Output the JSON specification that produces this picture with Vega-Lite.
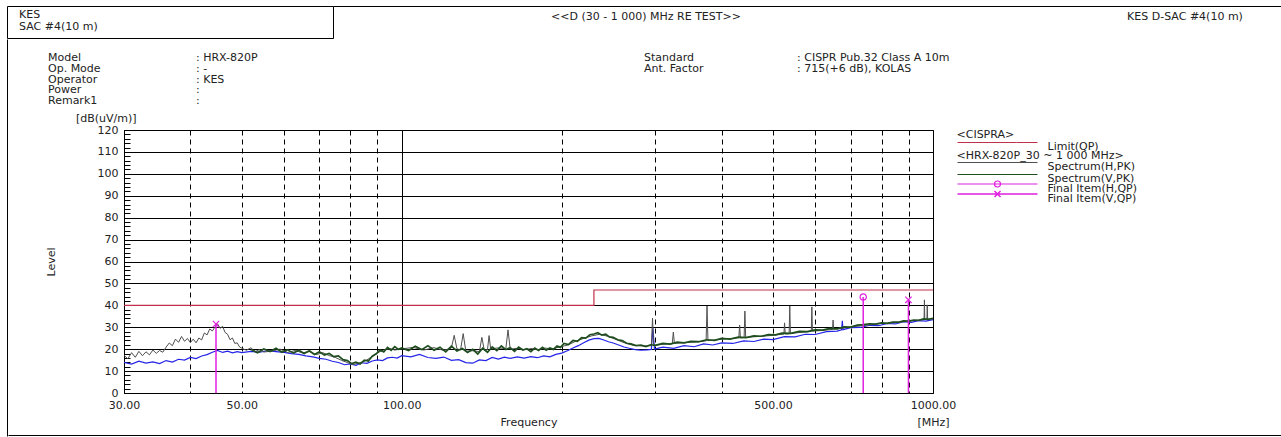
{
  "$schema": "https://vega.github.io/schema/vega-lite/v6.json",
  "padding": {"left": 6, "top": 5, "right": 0, "bottom": 0},
  "background": "white",
  "bounds": "full",
  "spacing": 0,
  "config": {
    "font": "DejaVu Sans",
    "view": {"stroke": null},
    "text": {"font": "DejaVu Sans", "fontSize": 11, "color": "#222"},
    "title": {"font": "DejaVu Sans"},
    "axis": {"labelFont": "DejaVu Sans", "titleFont": "DejaVu Sans"},
    "legend": {"labelFont": "DejaVu Sans", "titleFont": "DejaVu Sans"}
  },
  "datasets": {
    "lim": [
      {"f": 30, "v": 40, "lim": "L"},
      {"f": 230, "v": 47, "lim": "L"},
      {"f": 1000, "v": 47, "lim": "L"}
    ],
    "fin": [
      {"f": 44.7, "v": 31.5, "s": "FV"},
      {"f": 739, "v": 43.8, "s": "FH"},
      {"f": 899, "v": 42.5, "s": "FV"}
    ],
    "b": [
      {"f":30,"v":14.0,"s":"B"},{"f":31,"v":13.2,"s":"B"},{"f":32,"v":14.5,"s":"B"},{"f":33,"v":13.6,"s":"B"},{"f":34,"v":14.2,"s":"B"},{"f":35,"v":13.4,"s":"B"},{"f":36,"v":14.8,"s":"B"},{"f":37,"v":14.1,"s":"B"},{"f":38,"v":15.4,"s":"B"},{"f":39,"v":15.0,"s":"B"},{"f":40,"v":16.2,"s":"B"},{"f":41,"v":15.7,"s":"B"},{"f":42,"v":16.9,"s":"B"},{"f":43,"v":17.5,"s":"B"},{"f":44,"v":18.6,"s":"B"},{"f":45,"v":19.4,"s":"B"},{"f":46,"v":18.5,"s":"B"},{"f":47,"v":19.1,"s":"B"},{"f":48,"v":18.3,"s":"B"},{"f":49,"v":18.9,"s":"B"},{"f":50,"v":18.4,"s":"B"},{"f":52,"v":19.0,"s":"B"},{"f":54,"v":18.6,"s":"B"},{"f":56,"v":19.3,"s":"B"},{"f":58,"v":18.9,"s":"B"},{"f":60,"v":18.5,"s":"B"},{"f":62,"v":18.0,"s":"B"},{"f":64,"v":17.6,"s":"B"},{"f":66,"v":16.9,"s":"B"},{"f":68,"v":16.5,"s":"B"},{"f":70,"v":15.8,"s":"B"},{"f":72,"v":15.4,"s":"B"},{"f":74,"v":14.5,"s":"B"},{"f":76,"v":13.9,"s":"B"},{"f":78,"v":12.9,"s":"B"},{"f":80,"v":13.3,"s":"B"},{"f":82,"v":12.6,"s":"B"},{"f":84,"v":13.8,"s":"B"},{"f":86,"v":13.5,"s":"B"},{"f":88,"v":14.6,"s":"B"},{"f":90,"v":15.1,"s":"B"},{"f":92,"v":14.8,"s":"B"},{"f":94,"v":16.0,"s":"B"},{"f":96,"v":16.3,"s":"B"},{"f":98,"v":15.9,"s":"B"},{"f":100,"v":17.0,"s":"B"},{"f":104,"v":16.5,"s":"B"},{"f":108,"v":17.6,"s":"B"},{"f":112,"v":16.2,"s":"B"},{"f":116,"v":15.8,"s":"B"},{"f":120,"v":16.4,"s":"B"},{"f":124,"v":14.9,"s":"B"},{"f":128,"v":15.2,"s":"B"},{"f":132,"v":13.9,"s":"B"},{"f":136,"v":13.6,"s":"B"},{"f":140,"v":15.1,"s":"B"},{"f":144,"v":14.8,"s":"B"},{"f":148,"v":16.2,"s":"B"},{"f":152,"v":15.5,"s":"B"},{"f":156,"v":16.4,"s":"B"},{"f":160,"v":15.8,"s":"B"},{"f":165,"v":16.5,"s":"B"},{"f":170,"v":15.9,"s":"B"},{"f":175,"v":16.6,"s":"B"},{"f":180,"v":16.1,"s":"B"},{"f":185,"v":16.9,"s":"B"},{"f":190,"v":16.5,"s":"B"},{"f":195,"v":17.6,"s":"B"},{"f":200,"v":18.2,"s":"B"},{"f":205,"v":19.3,"s":"B"},{"f":210,"v":20.5,"s":"B"},{"f":215,"v":21.6,"s":"B"},{"f":220,"v":22.9,"s":"B"},{"f":225,"v":24.1,"s":"B"},{"f":230,"v":24.8,"s":"B"},{"f":235,"v":24.9,"s":"B"},{"f":240,"v":24.2,"s":"B"},{"f":245,"v":23.4,"s":"B"},{"f":250,"v":22.8,"s":"B"},{"f":256,"v":21.9,"s":"B"},{"f":262,"v":21.0,"s":"B"},{"f":268,"v":20.4,"s":"B"},{"f":275,"v":19.8,"s":"B"},{"f":282,"v":19.5,"s":"B"},{"f":290,"v":19.7,"s":"B"},{"f":295,"v":19.9,"s":"B"},{"f":297,"v":29.5,"s":"B"},{"f":299,"v":20.0,"s":"B"},{"f":310,"v":20.9,"s":"B"},{"f":325,"v":20.4,"s":"B"},{"f":340,"v":21.6,"s":"B"},{"f":355,"v":21.1,"s":"B"},{"f":370,"v":22.4,"s":"B"},{"f":385,"v":21.9,"s":"B"},{"f":400,"v":22.9,"s":"B"},{"f":420,"v":22.6,"s":"B"},{"f":440,"v":23.8,"s":"B"},{"f":460,"v":23.5,"s":"B"},{"f":480,"v":24.6,"s":"B"},{"f":500,"v":24.4,"s":"B"},{"f":525,"v":25.7,"s":"B"},{"f":550,"v":25.6,"s":"B"},{"f":575,"v":26.8,"s":"B"},{"f":600,"v":26.7,"s":"B"},{"f":630,"v":28.0,"s":"B"},{"f":660,"v":28.2,"s":"B"},{"f":673,"v":28.8,"s":"B"},{"f":675,"v":33.0,"s":"B"},{"f":677,"v":28.9,"s":"B"},{"f":700,"v":29.8,"s":"B"},{"f":730,"v":29.9,"s":"B"},{"f":760,"v":30.9,"s":"B"},{"f":790,"v":30.7,"s":"B"},{"f":820,"v":31.7,"s":"B"},{"f":850,"v":31.5,"s":"B"},{"f":880,"v":32.5,"s":"B"},{"f":910,"v":32.2,"s":"B"},{"f":940,"v":33.0,"s":"B"},{"f":970,"v":32.8,"s":"B"},{"f":1000,"v":33.5,"s":"B"}
    ],
    "h": [
      {"f":30.0,"v":17.2,"s":"H"},{"f":30.5,"v":15.6,"s":"H"},{"f":31.0,"v":18.4,"s":"H"},{"f":31.5,"v":16.3,"s":"H"},{"f":32.0,"v":19.0,"s":"H"},{"f":32.5,"v":17.0,"s":"H"},{"f":33.0,"v":18.8,"s":"H"},{"f":33.5,"v":17.4,"s":"H"},{"f":34.0,"v":19.6,"s":"H"},{"f":34.5,"v":18.1,"s":"H"},{"f":35.0,"v":19.4,"s":"H"},{"f":35.5,"v":18.6,"s":"H"},{"f":36.0,"v":20.9,"s":"H"},{"f":36.5,"v":22.8,"s":"H"},{"f":37.0,"v":21.6,"s":"H"},{"f":37.5,"v":24.6,"s":"H"},{"f":38.0,"v":23.1,"s":"H"},{"f":38.5,"v":25.8,"s":"H"},{"f":39.0,"v":23.6,"s":"H"},{"f":39.5,"v":24.9,"s":"H"},{"f":40.0,"v":23.0,"s":"H"},{"f":40.5,"v":24.6,"s":"H"},{"f":41.0,"v":22.9,"s":"H"},{"f":41.5,"v":25.1,"s":"H"},{"f":42.0,"v":24.2,"s":"H"},{"f":42.5,"v":27.4,"s":"H"},{"f":43.0,"v":26.5,"s":"H"},{"f":43.5,"v":29.2,"s":"H"},{"f":44.0,"v":28.3,"s":"H"},{"f":44.5,"v":30.1,"s":"H"},{"f":45.0,"v":31.6,"s":"H"},{"f":45.5,"v":29.5,"s":"H"},{"f":46.0,"v":30.4,"s":"H"},{"f":46.5,"v":27.6,"s":"H"},{"f":47.0,"v":26.8,"s":"H"},{"f":47.5,"v":24.3,"s":"H"},{"f":48.0,"v":25.1,"s":"H"},{"f":48.5,"v":22.6,"s":"H"},{"f":49.0,"v":22.9,"s":"H"},{"f":49.5,"v":21.0,"s":"H"},{"f":50.0,"v":20.4,"s":"H"},{"f":51,"v":19.5,"s":"H"},{"f":52,"v":20.6,"s":"H"},{"f":53,"v":18.9,"s":"H"},{"f":54,"v":19.8,"s":"H"},{"f":55,"v":18.7,"s":"H"},
      {"f":57,"v":19.1,"s":"H"},{"f":59,"v":20.0,"s":"H"},{"f":61,"v":18.5,"s":"H"},{"f":63,"v":19.4,"s":"H"},{"f":65,"v":18.3,"s":"H"},{"f":67,"v":18.9,"s":"H"},{"f":69,"v":17.5,"s":"H"},{"f":71,"v":18.4,"s":"H"},{"f":73,"v":17.1,"s":"H"},{"f":75,"v":16.2,"s":"H"},{"f":77,"v":14.9,"s":"H"},{"f":79,"v":13.9,"s":"H"},{"f":81,"v":13.0,"s":"H"},{"f":83,"v":13.7,"s":"H"},{"f":85,"v":14.4,"s":"H"},{"f":87,"v":15.9,"s":"H"},{"f":89,"v":17.4,"s":"H"},{"f":91,"v":18.9,"s":"H"},{"f":93,"v":19.8,"s":"H"},{"f":95,"v":20.3,"s":"H"},{"f":97,"v":19.6,"s":"H"},{"f":100,"v":20.1,"s":"H"},{"f":105,"v":20.8,"s":"H"},{"f":110,"v":19.6,"s":"H"},{"f":115,"v":20.7,"s":"H"},{"f":120,"v":19.4,"s":"H"},{"f":124,"v":20.5,"s":"H"},{"f":125.5,"v":26.3,"s":"H"},{"f":127,"v":20.2,"s":"H"},{"f":129,"v":19.6,"s":"H"},{"f":130.5,"v":27.1,"s":"H"},{"f":132,"v":19.1,"s":"H"},{"f":137,"v":19.3,"s":"H"},{"f":140,"v":18.8,"s":"H"},{"f":141.5,"v":25.4,"s":"H"},{"f":143,"v":19.5,"s":"H"},{"f":145,"v":19.8,"s":"H"},{"f":146,"v":26.2,"s":"H"},{"f":147,"v":20.1,"s":"H"},{"f":152,"v":20.6,"s":"H"},{"f":157,"v":20.2,"s":"H"},{"f":158.5,"v":28.8,"s":"H"},{"f":160,"v":20.0,"s":"H"},{"f":165,"v":20.4,"s":"H"},{"f":170,"v":19.8,"s":"H"},{"f":176,"v":20.3,"s":"H"},{"f":180,"v":19.7,"s":"H"},{"f":186,"v":20.5,"s":"H"},{"f":192,"v":20.1,"s":"H"},{"f":198,"v":21.0,"s":"H"},{"f":205,"v":21.8,"s":"H"},{"f":212,"v":23.5,"s":"H"},{"f":220,"v":24.9,"s":"H"},{"f":228,"v":26.1,"s":"H"},{"f":236,"v":26.8,"s":"H"},{"f":244,"v":25.9,"s":"H"},{"f":252,"v":24.6,"s":"H"},{"f":262,"v":23.0,"s":"H"},{"f":272,"v":21.8,"s":"H"},{"f":284,"v":21.4,"s":"H"},{"f":295,"v":21.6,"s":"H"},{"f":296.5,"v":34.2,"s":"H"},{"f":298,"v":21.7,"s":"H"},{"f":310,"v":22.2,"s":"H"},{"f":323,"v":22.5,"s":"H"},{"f":324.5,"v":27.8,"s":"H"},{"f":326,"v":22.6,"s":"H"},{"f":345,"v":23.0,"s":"H"},{"f":362,"v":23.3,"s":"H"},{"f":374,"v":23.8,"s":"H"},{"f":375.5,"v":39.7,"s":"H"},{"f":377,"v":23.9,"s":"H"},{"f":400,"v":24.5,"s":"H"},{"f":420,"v":24.9,"s":"H"},{"f":431,"v":25.2,"s":"H"},{"f":432.5,"v":31.0,"s":"H"},{"f":434,"v":25.1,"s":"H"},{"f":441,"v":25.3,"s":"H"},{"f":442.5,"v":37.4,"s":"H"},{"f":444,"v":25.4,"s":"H"},{"f":470,"v":25.8,"s":"H"},{"f":500,"v":26.3,"s":"H"},{"f":524,"v":26.9,"s":"H"},{"f":525.5,"v":32.0,"s":"H"},{"f":527,"v":26.9,"s":"H"},{"f":536,"v":27.0,"s":"H"},{"f":537.5,"v":39.7,"s":"H"},{"f":539,"v":27.1,"s":"H"},{"f":565,"v":27.7,"s":"H"},{"f":590,"v":28.1,"s":"H"},{"f":591.5,"v":39.3,"s":"H"},{"f":593,"v":28.2,"s":"H"},{"f":620,"v":28.6,"s":"H"},{"f":647,"v":29.0,"s":"H"},{"f":648.5,"v":33.3,"s":"H"},{"f":650,"v":29.1,"s":"H"},{"f":690,"v":29.9,"s":"H"},{"f":740,"v":30.8,"s":"H"},{"f":800,"v":31.7,"s":"H"},{"f":860,"v":32.2,"s":"H"},{"f":920,"v":33.0,"s":"H"},{"f":962,"v":33.5,"s":"H"},{"f":963.5,"v":42.5,"s":"H"},{"f":965,"v":33.5,"s":"H"},{"f":974,"v":33.6,"s":"H"},{"f":975.5,"v":40.2,"s":"H"},{"f":977,"v":33.7,"s":"H"},{"f":1000,"v":33.9,"s":"H"}
    ],
    "v": [
      {"f":52,"v":19.8,"s":"V"},{"f":53.5,"v":18.4,"s":"V"},{"f":55,"v":20.1,"s":"V"},{"f":56.5,"v":18.9,"s":"V"},{"f":58,"v":20.4,"s":"V"},{"f":59.5,"v":18.6,"s":"V"},{"f":61,"v":19.7,"s":"V"},{"f":62.5,"v":18.2,"s":"V"},{"f":64,"v":19.5,"s":"V"},{"f":65.5,"v":18.0,"s":"V"},{"f":67,"v":19.3,"s":"V"},{"f":68.5,"v":17.6,"s":"V"},{"f":70,"v":18.8,"s":"V"},{"f":71.5,"v":17.3,"s":"V"},{"f":73,"v":18.1,"s":"V"},{"f":74.5,"v":16.6,"s":"V"},{"f":76,"v":16.9,"s":"V"},{"f":77.5,"v":15.2,"s":"V"},{"f":79,"v":14.8,"s":"V"},{"f":80.5,"v":13.4,"s":"V"},{"f":82,"v":14.1,"s":"V"},{"f":83.5,"v":13.2,"s":"V"},{"f":85,"v":15.0,"s":"V"},{"f":86.5,"v":14.6,"s":"V"},{"f":88,"v":16.8,"s":"V"},{"f":89.5,"v":17.9,"s":"V"},{"f":91,"v":19.6,"s":"V"},{"f":92.5,"v":18.7,"s":"V"},{"f":94,"v":20.8,"s":"V"},{"f":95.5,"v":19.5,"s":"V"},{"f":97,"v":21.2,"s":"V"},{"f":98.5,"v":19.9,"s":"V"},{"f":100,"v":20.6,"s":"V"},{"f":103,"v":19.4,"s":"V"},{"f":106,"v":21.3,"s":"V"},{"f":109,"v":19.8,"s":"V"},{"f":112,"v":21.6,"s":"V"},{"f":115,"v":19.5,"s":"V"},{"f":118,"v":20.9,"s":"V"},{"f":121,"v":18.8,"s":"V"},{"f":124,"v":21.4,"s":"V"},{"f":127,"v":19.2,"s":"V"},{"f":130,"v":20.3,"s":"V"},{"f":133,"v":18.5,"s":"V"},{"f":136,"v":19.9,"s":"V"},{"f":139,"v":17.8,"s":"V"},{"f":142,"v":20.4,"s":"V"},{"f":145,"v":18.6,"s":"V"},{"f":148,"v":21.0,"s":"V"},{"f":151,"v":19.3,"s":"V"},{"f":154,"v":21.5,"s":"V"},{"f":157,"v":19.8,"s":"V"},{"f":160,"v":20.7,"s":"V"},{"f":163,"v":19.0,"s":"V"},{"f":166,"v":20.9,"s":"V"},{"f":169,"v":19.6,"s":"V"},{"f":172,"v":20.2,"s":"V"},{"f":175,"v":18.9,"s":"V"},{"f":178,"v":20.5,"s":"V"},{"f":181,"v":19.4,"s":"V"},{"f":184,"v":20.8,"s":"V"},{"f":187,"v":19.5,"s":"V"},{"f":190,"v":20.6,"s":"V"},{"f":193,"v":19.9,"s":"V"},{"f":196,"v":21.4,"s":"V"},{"f":199,"v":20.8,"s":"V"},{"f":202,"v":22.6,"s":"V"},{"f":206,"v":22.1,"s":"V"},{"f":210,"v":24.0,"s":"V"},{"f":214,"v":23.6,"s":"V"},{"f":218,"v":25.3,"s":"V"},{"f":222,"v":25.0,"s":"V"},{"f":226,"v":26.6,"s":"V"},{"f":230,"v":26.9,"s":"V"},{"f":234,"v":27.5,"s":"V"},{"f":238,"v":26.4,"s":"V"},{"f":242,"v":26.8,"s":"V"},{"f":246,"v":25.6,"s":"V"},{"f":250,"v":25.4,"s":"V"},{"f":255,"v":24.3,"s":"V"},{"f":260,"v":23.9,"s":"V"},{"f":265,"v":22.7,"s":"V"},{"f":270,"v":22.4,"s":"V"},{"f":276,"v":21.6,"s":"V"},{"f":282,"v":21.9,"s":"V"},{"f":288,"v":21.2,"s":"V"},{"f":294,"v":22.0,"s":"V"},{"f":300,"v":21.7,"s":"V"},{"f":310,"v":22.6,"s":"V"},{"f":320,"v":22.3,"s":"V"},{"f":330,"v":23.2,"s":"V"},{"f":340,"v":22.9,"s":"V"},{"f":350,"v":23.6,"s":"V"},{"f":362,"v":23.4,"s":"V"},{"f":375,"v":24.3,"s":"V"},{"f":388,"v":24.0,"s":"V"},{"f":400,"v":24.9,"s":"V"},{"f":415,"v":24.6,"s":"V"},{"f":430,"v":25.5,"s":"V"},{"f":445,"v":25.3,"s":"V"},{"f":460,"v":26.1,"s":"V"},{"f":475,"v":25.9,"s":"V"},{"f":490,"v":26.6,"s":"V"},{"f":505,"v":26.5,"s":"V"},{"f":520,"v":27.3,"s":"V"},{"f":540,"v":27.2,"s":"V"},{"f":560,"v":28.1,"s":"V"},{"f":580,"v":28.0,"s":"V"},{"f":600,"v":28.8,"s":"V"},{"f":620,"v":28.7,"s":"V"},{"f":640,"v":29.5,"s":"V"},{"f":660,"v":29.3,"s":"V"},{"f":680,"v":30.2,"s":"V"},{"f":700,"v":30.1,"s":"V"},{"f":720,"v":31.0,"s":"V"},{"f":740,"v":31.2,"s":"V"},{"f":760,"v":31.6,"s":"V"},{"f":780,"v":31.4,"s":"V"},{"f":800,"v":32.0,"s":"V"},{"f":820,"v":31.8,"s":"V"},{"f":840,"v":32.4,"s":"V"},{"f":860,"v":32.3,"s":"V"},{"f":880,"v":32.9,"s":"V"},{"f":900,"v":32.8,"s":"V"},{"f":920,"v":33.3,"s":"V"},{"f":940,"v":33.2,"s":"V"},{"f":960,"v":33.8,"s":"V"},{"f":980,"v":33.6,"s":"V"},{"f":1000,"v":34.1,"s":"V"}
    ]
  },
  "vconcat": [
    {
      "hconcat": [
        {
          "width": 326,
          "height": 32,
          "view": {"stroke": "#000", "strokeWidth": 1},
          "data": {"values": [{"c": "k", "r": 1, "t": "KES"}, {"c": "k", "r": 2, "t": "SAC #4(10 m)"}]},
          "mark": {"type": "text", "align": "left", "baseline": "middle"},
          "encoding": {
            "x": {"field": "c", "type": "nominal", "axis": null, "scale": {"padding": 0, "align": 0.0368}},
            "y": {"field": "r", "type": "ordinal", "axis": null, "scale": {"padding": 0.891, "align": 0.463}},
            "text": {"field": "t"}
          }
        },
        {
          "width": 958,
          "height": 32,
          "data": {"values": [{"p": "c", "t": "<<D (30 - 1 000) MHz RE TEST>>"}, {"p": "r", "t": "KES D-SAC #4(10 m)"}]},
          "mark": {"type": "text", "align": "center", "baseline": "bottom"},
          "encoding": {
            "x": {"field": "p", "type": "nominal", "scale": {"domain": ["c", "r"], "padding": 0.3887, "align": 0.747},
                  "axis": {"orient": "top", "labels": false, "ticks": false, "title": null, "grid": false, "domain": true, "domainColor": "#000", "domainWidth": 1}},
            "text": {"field": "t"}
          }
        }
      ],
      "spacing": 0,
      "bounds": "flush"
    },
    {
      "hconcat": [
        {
          "width": 1,
          "height": 397,
          "data": {"values": [{"c": "k"}]},
          "mark": {"type": "text"},
          "encoding": {
            "y": {"field": "c", "type": "nominal", "axis": {"orient": "left", "labels": false, "ticks": false, "title": null, "grid": false, "domain": true, "domainColor": "#000", "domainWidth": 1}},
            "text": {"value": ""}
          }
        },
        {
          "vconcat": [
            {
              "hconcat": [
                {"width": 40, "height": 73, "data": {"values": []}, "mark": "point", "encoding": {}},
                {
                  "width": 148,
                  "height": 73,
                  "data": {"values": [
                    {"r": 1, "c": "k", "t": "Model"}, {"r": 1, "c": "v", "t": ": HRX-820P"},
                    {"r": 2, "c": "k", "t": "Op. Mode"}, {"r": 2, "c": "v", "t": ": -"},
                    {"r": 3, "c": "k", "t": "Operator"}, {"r": 3, "c": "v", "t": ": KES"},
                    {"r": 4, "c": "k", "t": "Power"}, {"r": 4, "c": "v", "t": ":"},
                    {"r": 5, "c": "k", "t": "Remark1"}, {"r": 5, "c": "v", "t": ":"}
                  ]},
                  "mark": {"type": "text", "align": "left", "baseline": "middle"},
                  "encoding": {
                    "x": {"field": "c", "type": "nominal", "axis": null, "scale": {"domain": ["k", "v"], "padding": 0}},
                    "y": {"field": "r", "type": "quantitative", "axis": null, "scale": {"domain": [-0.857, 6.095], "reverse": true, "nice": false, "zero": false}},
                    "text": {"field": "t"}
                  }
                },
                {"width": 448, "height": 73, "data": {"values": []}, "mark": "point", "encoding": {}},
                {
                  "width": 153,
                  "height": 73,
                  "data": {"values": [
                    {"r": 1, "c": "k", "t": "Standard"}, {"r": 1, "c": "v", "t": ": CISPR Pub.32 Class A 10m"},
                    {"r": 2, "c": "k", "t": "Ant. Factor"}, {"r": 2, "c": "v", "t": ": 715(+6 dB), KOLAS"}
                  ]},
                  "mark": {"type": "text", "align": "left", "baseline": "middle"},
                  "encoding": {
                    "x": {"field": "c", "type": "nominal", "axis": null, "scale": {"domain": ["k", "v"], "padding": 0}},
                    "y": {"field": "r", "type": "quantitative", "axis": null, "scale": {"domain": [-0.857, 6.095], "reverse": true, "nice": false, "zero": false}},
                    "text": {"field": "t"}
                  }
                }
              ],
              "spacing": 0,
              "bounds": "flush"
            },
            {
              "hconcat": [
                {"width": 116, "height": 263, "data": {"values": []}, "mark": "point", "encoding": {}},
                {
                  "width": 809,
                  "height": 263,
                  "view": {"stroke": "#000", "strokeWidth": 1},
                  "title": {"text": "[dB(uV/m)]", "anchor": "start", "frame": "group", "dx": -48, "offset": 0, "fontSize": 11, "fontWeight": "normal", "color": "#222"},
                  "encoding": {
                    "x": {
                      "field": "f", "type": "quantitative",
                      "scale": {"type": "log", "domain": [30, 1000], "nice": false},
                      "axis": {
                        "values": [30, 40, 50, 60, 70, 80, 90, 100, 200, 300, 400, 500, 600, 700, 800, 900, 1000],
                        "labelExpr": "datum.value == 1000 ? ['1000.00', '[MHz]'] : (datum.value == 30 || datum.value == 50 || datum.value == 100 || datum.value == 500) ? format(datum.value, '.2f') : ''",
                        "labelFlush": false, "labelOverlap": false, "labelPadding": 6, "labelFontSize": 11, "labelColor": "#222", "labelLineHeight": 17,
                        "ticks": false, "domain": false,
                        "grid": true, "gridColor": "#000", "gridOpacity": 1, "gridWidth": 1,
                        "gridDash": {"condition": {"test": "datum.value == 100 || datum.value == 30 || datum.value == 1000", "value": []}, "value": [5, 4]},
                        "title": "Frequency", "titleFontSize": 11, "titleFontWeight": "normal", "titleColor": "#222", "titleY": 29, "titleBaseline": "middle"
                      }
                    },
                    "y": {
                      "field": "v", "type": "quantitative",
                      "scale": {"domain": [0, 120], "nice": false},
                      "axis": {
                        "values": [0,2,4,6,8,10,12,14,16,18,20,22,24,26,28,30,32,34,36,38,40,42,44,46,48,50,52,54,56,58,60,62,64,66,68,70,72,74,76,78,80,82,84,86,88,90,92,94,96,98,100,102,104,106,108,110,112,114,116,118,120],
                        "labelExpr": "datum.value % 10 == 0 ? datum.label : ''",
                        "labelOverlap": false, "labelPadding": 12, "labelFontSize": 11, "labelColor": "#222",
                        "ticks": true, "tickSize": -6, "tickColor": "#000", "tickWidth": 1,
                        "domain": false,
                        "grid": true, "gridColor": "#000", "gridWidth": 1,
                        "gridOpacity": {"condition": {"test": "datum.value % 10 == 0", "value": 1}, "value": 0},
                        "title": "Level", "titleFontSize": 11, "titleFontWeight": "normal", "titleColor": "#222", "titleX": -73, "titleY": 131.5, "titleBaseline": "middle"
                      }
                    }
                  },
                  "layer": [
                    {
                      "data": {"name": "lim"},
                      "mark": {"type": "line", "interpolate": "step-after", "color": "#c0304a", "strokeWidth": 1.2},
                      "encoding": {
                        "strokeDash": {
                          "field": "lim", "type": "nominal",
                          "scale": {"domain": ["L"], "range": [[1, 0]]},
                          "legend": {
                            "title": "<CISPRA>", "labelExpr": "'Limit(QP)'",
                            "orient": "none", "legendX": 949.5, "legendY": 123, "padding": 0,
                            "titlePadding": 1, "titleFontSize": 11, "titleFontWeight": "normal", "titleColor": "#222",
                            "labelFontSize": 11, "labelColor": "#222", "labelBaseline": "middle", "labelOffset": 79,
                            "symbolType": "M-1,-0.9H15", "symbolSize": 100, "symbolStrokeWidth": 1.2, "symbolStrokeColor": "#c0304a", "symbolFillColor": "transparent", "rowPadding": 0
                          }
                        }
                      }
                    },
                    {
                      "data": {"name": "b"},
                      "mark": {"type": "line", "strokeWidth": 1.2},
                      "encoding": {"color": {"field": "s", "type": "nominal", "scale": {"domain": ["H", "V", "B"], "range": ["#505050", "#1e4d1e", "#2424e8"]}}}
                    },
                    {
                      "data": {"name": "h"},
                      "mark": {"type": "line", "strokeWidth": 1},
                      "encoding": {"color": {"field": "s", "type": "nominal"}}
                    },
                    {
                      "data": {"name": "v"},
                      "mark": {"type": "line", "strokeWidth": 1.7},
                      "encoding": {
                        "color": {
                          "field": "s", "type": "nominal",
                          "legend": {
                            "title": "<HRX-820P_30 ~ 1 000 MHz>",
                            "values": ["H", "V"],
                            "labelExpr": "datum.value == 'H' ? 'Spectrum(H,PK)' : 'Spectrum(V,PK)'",
                            "orient": "none", "legendX": 949.5, "legendY": 144, "padding": 0,
                            "titlePadding": 0, "titleFontSize": 11, "titleFontWeight": "normal", "titleColor": "#222",
                            "labelFontSize": 11, "labelColor": "#222", "labelBaseline": "middle", "labelOffset": 79,
                            "symbolType": "M-1,-0.9H15", "symbolSize": 100, "symbolStrokeWidth": 1.2, "symbolFillColor": "transparent", "rowPadding": 0
                          }
                        }
                      }
                    },
                    {
                      "data": {"name": "fin"},
                      "mark": {"type": "rule", "strokeWidth": 1.5, "color": "#e020e0"},
                      "encoding": {
                        "y2": {"datum": 0},
                        "strokeWidth": {
                          "field": "s", "type": "nominal",
                          "scale": {"domain": ["FV", "FH"], "range": [1.5, 1.5]},
                          "legend": {
                            "title": null, "values": ["FV"], "labelExpr": "'Final Item(V,QP)'",
                            "orient": "none", "legendX": 949.5, "legendY": 186.5, "padding": 0,
                            "labelFontSize": 11, "labelColor": "#222", "labelBaseline": "middle", "labelOffset": 79,
                            "symbolType": "M-1,-0.9H15M6.4,-1.5L7.6,-0.3M6.4,-0.3L7.6,-1.5", "symbolSize": 100, "symbolStrokeColor": "#e020e0", "symbolFillColor": "transparent"
                          }
                        }
                      }
                    },
                    {
                      "data": {"name": "fin"},
                      "mark": {"type": "point", "filled": false, "size": 40, "strokeWidth": 1.2, "color": "#e020e0"},
                      "encoding": {
                        "shape": {"field": "s", "type": "nominal", "scale": {"domain": ["FH", "FV"], "range": ["circle", "M-1,-1L1,1M-1,1L1,-1"]}, "legend": null},
                        "opacity": {
                          "field": "s", "type": "nominal",
                          "scale": {"domain": ["FH", "FV", "X"], "range": [1, 1, 1]},
                          "legend": {
                            "title": null, "values": ["FH"], "labelExpr": "'Final Item(H,QP)'",
                            "orient": "none", "legendX": 949.5, "legendY": 176.5, "padding": 0,
                            "labelFontSize": 11, "labelColor": "#222", "labelBaseline": "middle", "labelOffset": 79,
                            "symbolType": "M-1,-0.9H15M7.6,-0.9A0.6,0.6,0,1,1,6.4,-0.9A0.6,0.6,0,1,1,7.6,-0.9", "symbolSize": 100, "symbolStrokeWidth": 1.2, "symbolStrokeColor": "#e020e0", "symbolFillColor": "transparent"
                          }
                        }
                      }
                    }
                  ]
                }
              ],
              "spacing": 0,
              "bounds": "flush"
            },
            {
              "width": 1274,
              "height": 1,
              "data": {"values": [{"c": "k"}]},
              "mark": {"type": "text"},
              "encoding": {
                "x": {"field": "c", "type": "nominal", "axis": {"orient": "bottom", "labels": false, "ticks": false, "title": null, "grid": false, "domain": true, "domainColor": "#000", "domainWidth": 1}},
                "text": {"value": ""}
              }
            }
          ],
          "spacing": 0,
          "bounds": "full"
        }
      ],
      "spacing": 0,
      "bounds": "full"
    }
  ]
}
